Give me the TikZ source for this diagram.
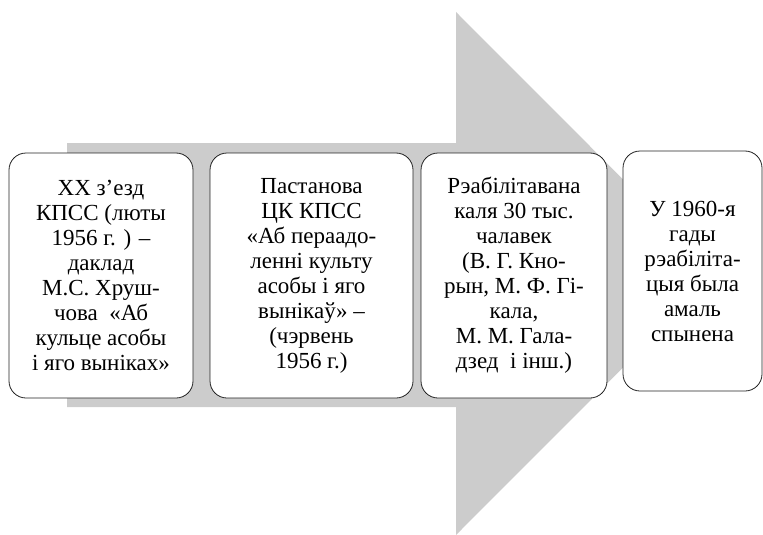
\documentclass[tikz,border=0pt]{standalone}
\usepackage{fontspec}
\setmainfont{Liberation Serif}
\usetikzlibrary{positioning}
\definecolor{cgrey}{HTML}{CCCCCC}
\definecolor{cline}{HTML}{222222}
\tikzset{
  every picture/.style={x=1pt, y=-1pt},
  stagebox/.style={draw=cline, fill=white, line width=0.8pt, rounded corners=17pt, align=center,
    inner sep=2pt, font=\fontsize{23}{25}\selectfont},
}

\begin{document}
\begin{tikzpicture}
  \useasboundingbox (0,0) rectangle (763,535);
  % big grey arrow behind the stages
  \fill[cgrey] (67,143) -- (456,143) -- (456,12) -- (717,273.5) -- (456,535) -- (456,407) -- (67,407) -- cycle;
  \node (s1) [stagebox, minimum width=184pt, minimum height=245pt] at (101,275.5)
    {XX з’езд\\КПСС (люты\\1956 г. ) –\\даклад\\М.С. Хруш-\\чова\ \ «Аб\\кульце асобы\\і яго выніках»};
  \node (s2) [stagebox, minimum width=203pt, minimum height=245pt] at (311.5,275.5)
    {Пастанова\\ЦК КПСС\\«Аб пераадо-\\ленні культу\\асобы і яго\\вынікаў» –\\(чэрвень\\1956 г.)};
  \node (s3) [stagebox, minimum width=186pt, minimum height=245pt] at (514,275.5)
    {Рэабілітавана\\каля 30 тыс.\\чалавек\\(В. Г. Кно-\\рын, М. Ф. Гі-\\кала,\\М. М. Гала-\\дзед\ \ і інш.)};
  \node (s4) [stagebox, minimum width=139pt, minimum height=240pt] at (692.5,271)
    {У 1960-я\\гады\\рэабіліта-\\цыя была\\амаль\\спынена};
\end{tikzpicture}
\end{document}
